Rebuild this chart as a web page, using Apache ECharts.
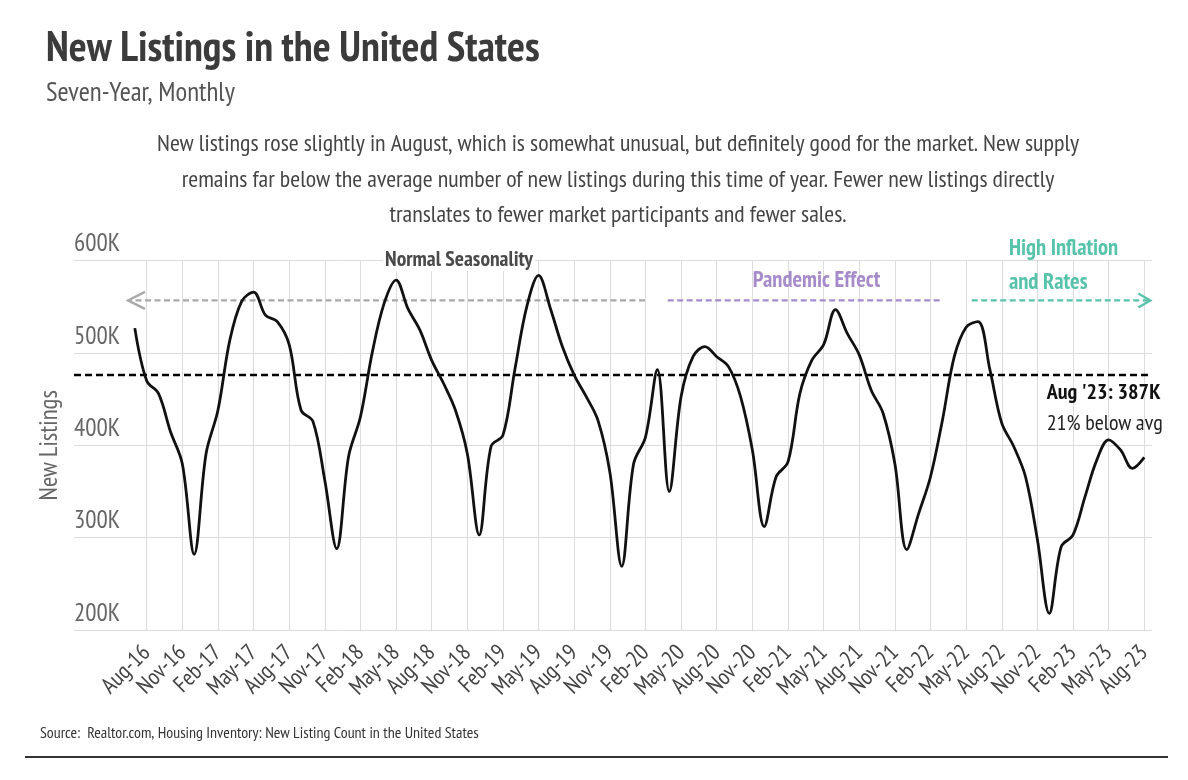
<!DOCTYPE html>
<html>
<head>
<meta charset="utf-8">
<script src="https://cdn.jsdelivr.net/npm/echarts@6.0.0/dist/echarts.min.js"></script>
<style>html,body{margin:0;padding:0;background:#fff}#chart{width:1188px;height:780px}</style>
</head>
<body>
<div id="chart"></div>
<script>
// ---------- data ----------
const months = [
  'Jul-16','Aug-16','Sep-16','Oct-16','Nov-16','Dec-16',
  'Jan-17','Feb-17','Mar-17','Apr-17','May-17','Jun-17','Jul-17','Aug-17','Sep-17','Oct-17','Nov-17','Dec-17',
  'Jan-18','Feb-18','Mar-18','Apr-18','May-18','Jun-18','Jul-18','Aug-18','Sep-18','Oct-18','Nov-18','Dec-18',
  'Jan-19','Feb-19','Mar-19','Apr-19','May-19','Jun-19','Jul-19','Aug-19','Sep-19','Oct-19','Nov-19','Dec-19',
  'Jan-20','Feb-20','Mar-20','Apr-20','May-20','Jun-20','Jul-20','Aug-20','Sep-20','Oct-20','Nov-20','Dec-20',
  'Jan-21','Feb-21','Mar-21','Apr-21','May-21','Jun-21','Jul-21','Aug-21','Sep-21','Oct-21','Nov-21','Dec-21',
  'Jan-22','Feb-22','Mar-22','Apr-22','May-22','Jun-22','Jul-22','Aug-22','Sep-22','Oct-22','Nov-22','Dec-22',
  'Jan-23','Feb-23','Mar-23','Apr-23','May-23','Jun-23','Jul-23','Aug-23'
];
// New listings, thousands
const newListings = [
  527, 470, 456, 415, 380, 282,
  391, 438, 514, 556, 566, 541, 534, 509, 438, 426, 362, 288,
  388, 431, 501, 554, 579, 548, 525, 492, 467, 438, 391, 303,
  399, 411, 482, 550, 584, 548, 507, 476, 453, 427, 371, 269,
  380, 409, 482, 350, 453, 496, 507, 496, 485, 453, 395, 312,
  366, 382, 456, 492, 509, 547, 521, 498, 460, 435, 380, 287,
  326, 366, 427, 496, 528, 534, 482, 424, 399, 366, 298, 218,
  290, 303, 344, 384, 406, 395, 375, 387
];
const tickLabels = [
  'Aug-16','Nov-16','Feb-17','May-17','Aug-17','Nov-17','Feb-18','May-18','Aug-18','Nov-18',
  'Feb-19','May-19','Aug-19','Nov-19','Feb-20','May-20','Aug-20','Nov-20','Feb-21','May-21',
  'Aug-21','Nov-21','Feb-22','May-22','Aug-22','Nov-22','Feb-23','May-23','Aug-23'
];
const yTicks = [200, 300, 400, 500, 600];
const averageListings = 476;
const latestLabel = "Aug '23: 387K";
const latestNote = '21% below avg';

// ---------- layout / style ----------
const FONT = "'PT Sans Narrow','Liberation Sans Narrow','Arial Narrow','DejaVu Sans Condensed','Roboto Condensed',Roboto,sans-serif";
const tickIdx = tickLabels.map(l => months.indexOf(l));
const X_MIN = -5.12, X_MAX = 85.65;

const chart = echarts.init(document.getElementById('chart'), null, {renderer: 'canvas'});

const option = {
  animation: false,
  backgroundColor: '#ffffff',
  grid: {left: 74, right: 36, top: 260.7, bottom: 150, containLabel: false, outerBoundsMode: 'none'},
  xAxis: {
    type: 'value', min: X_MIN, max: X_MAX,
    axisLine: {show: false},
    axisTick: {show: false, customValues: tickIdx},
    splitLine: {show: true, lineStyle: {color: '#dcdcdc', width: 1}},
    axisLabel: {
      customValues: tickIdx,
      formatter: v => months[Math.round(v)] || '',
      rotate: 45, margin: 19,
      fontFamily: FONT, fontSize: 23, color: '#444'
    }
  },
  yAxis: {
    type: 'value', min: yTicks[0] * 1000, max: yTicks[yTicks.length - 1] * 1000, interval: 100000,
    name: 'New Listings', nameLocation: 'middle', nameGap: 12, nameRotate: 90, nameMoveOverlap: false,
    nameTextStyle: {fontFamily: FONT, fontSize: 25, color: '#666'},
    axisLine: {show: false}, axisTick: {show: false},
    splitLine: {show: true, lineStyle: {color: '#dcdcdc', width: 1}},
    axisLabel: {
      inside: true, margin: 0, align: 'left', verticalAlign: 'bottom',
      verticalAlignMaxLabel: 'bottom', verticalAlignMinLabel: 'bottom',
      alignMaxLabel: 'left', alignMinLabel: 'left',
      padding: [0, 0, 4, 0],
      formatter: v => (v / 1000) + 'K',
      fontFamily: FONT, fontSize: 25, color: '#666'
    }
  },
  series: [{
    type: 'line',
    data: newListings.map((v, i) => [i, v * 1000]),
    smooth: 0.35,
    symbol: 'none', showSymbol: false,
    lineStyle: {color: '#111', width: 2.8},
    z: 5,
    markLine: {
      silent: true, symbol: 'none', animation: false,
      label: {show: false},
      lineStyle: {color: '#000', width: 2.4, type: [7, 4]},
      data: [{yAxis: averageListings * 1000}]
    }
  }],
  graphic: [
    {type: 'text', x: 46, y: 49, style: {text: 'New Listings in the United States', fontFamily: FONT, fontWeight: 'bold', fontSize: 42, fill: '#3b3b3b', align: 'left', verticalAlign: 'middle'}},
    {type: 'text', x: 46, y: 93, style: {text: 'Seven-Year, Monthly', fontFamily: FONT, fontSize: 27, fill: '#555', align: 'left', verticalAlign: 'middle'}},
    {type: 'text', x: 618, y: 144, style: {text: 'New listings rose slightly in August, which is somewhat unusual, but definitely good for the market. New supply', fontFamily: FONT, fontSize: 24, fill: '#444', align: 'center', verticalAlign: 'middle'}},
    {type: 'text', x: 618, y: 180, style: {text: 'remains far below the average number of new listings during this time of year. Fewer new listings directly', fontFamily: FONT, fontSize: 24, fill: '#444', align: 'center', verticalAlign: 'middle'}},
    {type: 'text', x: 618, y: 215, style: {text: 'translates to fewer market participants and fewer sales.', fontFamily: FONT, fontSize: 24, fill: '#444', align: 'center', verticalAlign: 'middle'}},
    {type: 'text', x: 40, y: 733, style: {text: 'Source:  Realtor.com, Housing Inventory: New Listing Count in the United States', fontFamily: FONT, fontSize: 16, fill: '#333', align: 'left', verticalAlign: 'middle'}},
    {type: 'line', shape: {x1: 25, y1: 757, x2: 1168, y2: 757}, style: {stroke: '#333', lineWidth: 2}}
  ]
};
chart.setOption(option);

// ---------- annotations positioned through the axes ----------
const P = (k, v) => chart.convertToPixel({gridIndex: 0}, [k, v * 1000]);
const eraLevel = 557;
const eras = [
  {from: 42.96, to: -0.3, color: '#a9a9a9', arrow: 'start', tip: -0.575},
  {from: 44.87, to: 68.05, color: '#a68bcb', arrow: null},
  {from: 70.47, to: 85.3, color: '#57c3aa', arrow: 'end', tip: 85.51}
];
const g = [];
eras.forEach(e => {
  const a = P(e.from, eraLevel), b = P(e.to, eraLevel);
  g.push({type: 'line', shape: {x1: a[0], y1: a[1], x2: b[0], y2: b[1]}, style: {stroke: e.color, lineWidth: 2.3, lineDash: [6, 3.5]}, z: 3});
  if (e.arrow === 'start') {
    const t = P(e.tip, eraLevel);
    g.push({type: 'polyline', shape: {points: [[t[0] + 17, t[1] - 8.5], [t[0], t[1]], [t[0] + 17, t[1] + 8.5]]}, style: {stroke: e.color, lineWidth: 2.3, fill: null}, z: 3});
  }
  if (e.arrow === 'end') {
    const t = P(e.tip, eraLevel);
    g.push({type: 'polyline', shape: {points: [[t[0] - 12, t[1] - 7], [t[0], t[1]], [t[0] - 12, t[1] + 7]]}, style: {stroke: e.color, lineWidth: 2.3, fill: null}, z: 3});
  }
});
const labels = [
  {k: 27.3, v: 600.5, text: 'Normal Seasonality', color: '#4a4a4a', align: 'center', weight: 'bold', size: 21.5, bg: '#fff'},
  {k: 57.4, v: 579, text: 'Pandemic Effect', color: '#a68bcb', align: 'center', weight: 'bold', size: 22.5},
  {k: 73.6, v: 612.7, text: 'High Inflation', color: '#57c3aa', align: 'left', weight: 'bold', size: 22.5},
  {k: 73.6, v: 576.4, text: 'and Rates', color: '#57c3aa', align: 'left', weight: 'bold', size: 22.5},
  {k: 76.78, v: 456.7, text: latestLabel, color: '#111', align: 'left', weight: 'bold', size: 22},
  {k: 76.78, v: 423, text: latestNote, color: '#222', align: 'left', weight: 'normal', size: 22}
];
labels.forEach(l => {
  const p = P(l.k, l.v);
  g.push({type: 'text', x: p[0], y: p[1], z: 10, style: {
    text: l.text, fontFamily: FONT, fontWeight: l.weight, fontSize: l.size, fill: l.color,
    align: l.align, verticalAlign: 'middle', backgroundColor: l.bg || null, padding: l.bg ? [0, 2] : 0
  }});
});
chart.setOption({graphic: option.graphic.concat(g)});
</script>
</body>
</html>
